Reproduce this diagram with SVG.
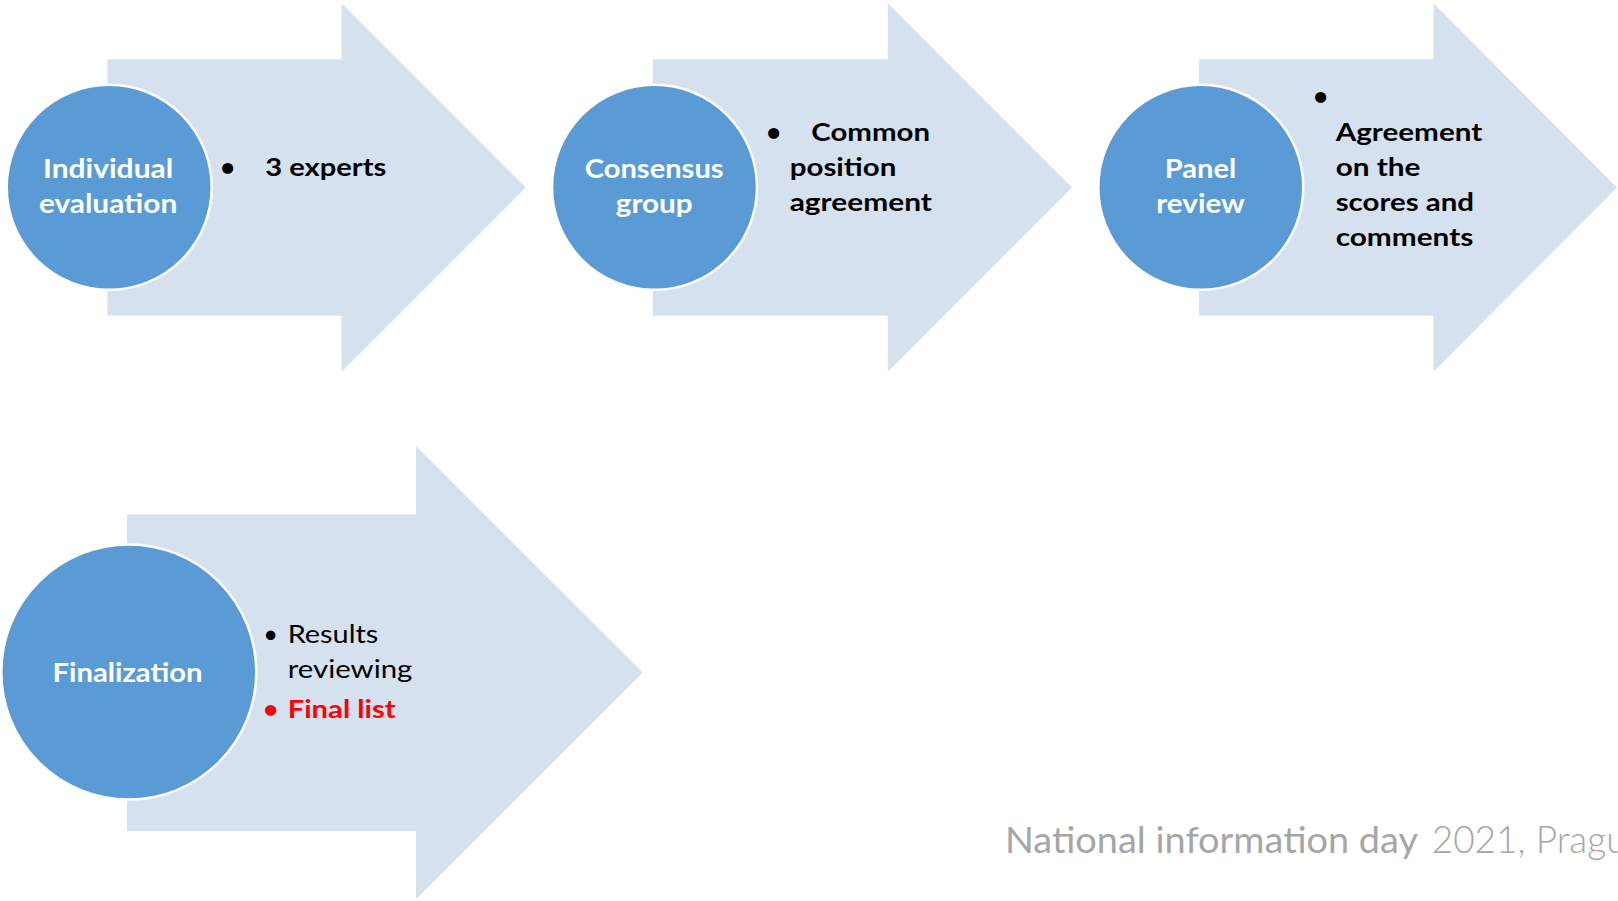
<svg xmlns="http://www.w3.org/2000/svg" width="1618" height="901" viewBox="0 0 1618 901">
<defs>
<style>
.arrow{fill:#d5e1ef;}
.circ{fill:#5b9bd5;stroke:#ffffff;stroke-width:2.5;}
.lbl{font-family:Lato,"Open Sans",sans-serif;font-weight:bold;fill:#ffffff;text-anchor:middle;font-size:27.5px;}
.bt{font-family:Lato,"Open Sans",sans-serif;font-weight:bold;fill:#000000;font-size:25.5px;}
.rt{font-family:Lato,"Open Sans",sans-serif;font-weight:normal;fill:#000000;font-size:25.5px;}
.red{fill:#ff0000;font-weight:bold;}
.foot{font-family:Lato,"Open Sans",sans-serif;fill:#a6a6a6;font-size:37px;}
</style>
</defs>
<rect width="1618" height="901" fill="#ffffff"/>

<g id="step-individual">
<path class="arrow" d="M107.4,59.3 H341.6 V3.3 L525.8,187.5 L341.6,371.7 V315.7 H107.4 Z"/>
<circle class="circ" cx="109.2" cy="187.3" r="102.5"/>
<text class="lbl" x="108.1" y="178" textLength="130.2" lengthAdjust="spacingAndGlyphs">Individual</text>
<text class="lbl" x="108.1" y="213" textLength="138.4" lengthAdjust="spacingAndGlyphs">evaluation</text>
<text class="bt" x="220.3" y="175.7">•</text>
<text class="bt" x="265.2" y="175.7" textLength="121.2" lengthAdjust="spacingAndGlyphs">3 experts</text>
</g>

<g id="step-consensus">
<path class="arrow" d="M652.9,59.3 H887.8 V3.3 L1072,187.5 L887.8,371.7 V315.7 H652.9 Z"/>
<circle class="circ" cx="654.5" cy="187.3" r="102.5"/>
<text class="lbl" x="654.2" y="178.3" textLength="138.8" lengthAdjust="spacingAndGlyphs">Consensus</text>
<text class="lbl" x="654.2" y="213" textLength="76.8" lengthAdjust="spacingAndGlyphs">group</text>
<text class="bt" x="766.3" y="140.7">•</text>
<text class="bt" x="811.3" y="140.7" textLength="118.8" lengthAdjust="spacingAndGlyphs">Common</text>
<text class="bt" x="789.7" y="175.7" textLength="106.7" lengthAdjust="spacingAndGlyphs">position</text>
<text class="bt" x="789.7" y="210.7" textLength="142.2" lengthAdjust="spacingAndGlyphs">agreement</text>
</g>

<g id="step-panel">
<path class="arrow" d="M1199.1,59.3 H1433.5 V3.3 L1617,187.5 L1433.5,371.7 V315.7 H1199.1 Z"/>
<circle class="circ" cx="1200.8" cy="187.3" r="102.5"/>
<text class="lbl" x="1200.5" y="178" textLength="71.4" lengthAdjust="spacingAndGlyphs">Panel</text>
<text class="lbl" x="1200.5" y="213" textLength="88.5" lengthAdjust="spacingAndGlyphs">review</text>
<text class="bt" x="1313.2" y="105">•</text>
<text class="bt" x="1335.7" y="140.7" textLength="146.5" lengthAdjust="spacingAndGlyphs">Agreement</text>
<text class="bt" x="1335.7" y="175.7" textLength="84.8" lengthAdjust="spacingAndGlyphs">on the</text>
<text class="bt" x="1335.7" y="210.7" textLength="138.3" lengthAdjust="spacingAndGlyphs">scores and</text>
<text class="bt" x="1335.7" y="245.7" textLength="137.6" lengthAdjust="spacingAndGlyphs">comments</text>
</g>

<g id="step-finalization">
<path class="arrow" d="M127,514.3 H416 V446 L642.8,672.5 L416,899.3 V831 H127 Z"/>
<circle class="circ" cx="128.8" cy="672" r="127.5"/>
<text class="lbl" x="127.5" y="682.3" font-size="29" textLength="150" lengthAdjust="spacingAndGlyphs">Finalization</text>
<text class="rt" x="263.2" y="643.3">•</text>
<text class="rt" x="287.7" y="643.3" textLength="90.7" lengthAdjust="spacingAndGlyphs">Results</text>
<text class="rt" x="287.7" y="678.3" textLength="124.7" lengthAdjust="spacingAndGlyphs">reviewing</text>
<text class="rt red" x="263.2" y="718.3">•</text>
<text class="rt red" x="287.7" y="718.3" textLength="108" lengthAdjust="spacingAndGlyphs">Final list</text>
</g>

<g id="footer">
<text class="foot" x="1005" y="853.3"><tspan textLength="413" lengthAdjust="spacingAndGlyphs">National information day</tspan><tspan x="1431.7" font-weight="300">2021, Prague</tspan></text>
</g>
</svg>
